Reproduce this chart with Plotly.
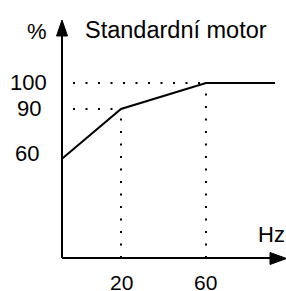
import plotly.graph_objects as go

# Schematic data (axis is not to scale in the original drawing)
freq_labels = ["20", "60"]          # x tick labels (Hz)
freq_pos = [20, 48.8]               # schematic positions on x axis
pct_labels = ["60", "90", "100"]    # y tick labels (%)
pct_pos = [60, 90, 105.7]           # schematic positions on y axis

curve_x = [0, 20, 48.8, 72.2]
curve_y = [60, 90, 105.7, 105.7]

W, H = 286, 291
X0PX, Y0PX = 62, 258
SX, SY = 2.95, 1.656

def x_of(px):
    return (px - X0PX) / SX

def y_of(py):
    return (Y0PX - py) / SY

FONT = "Liberation Sans, Arial, sans-serif"

fig = go.Figure()

# guide dotted lines
dot = dict(color="black", width=2, dash="2px,10.5px")
fig.add_trace(go.Scatter(x=[x_of(73), freq_pos[1]], y=[pct_pos[2]] * 2, mode="lines",
                         line=dot, hoverinfo="skip"))
fig.add_trace(go.Scatter(x=[x_of(73), freq_pos[0]], y=[pct_pos[1]] * 2, mode="lines",
                         line=dot, hoverinfo="skip"))
fig.add_trace(go.Scatter(x=[freq_pos[0]] * 2, y=[0, pct_pos[1]], mode="lines",
                         line=dot, hoverinfo="skip"))
fig.add_trace(go.Scatter(x=[freq_pos[1]] * 2, y=[0, pct_pos[2]], mode="lines",
                         line=dot, hoverinfo="skip"))

# main curve
fig.add_trace(go.Scatter(x=curve_x, y=curve_y, mode="lines",
                         line=dict(color="black", width=2), hoverinfo="skip"))

shapes = []
# axes
shapes.append(dict(type="line", x0=0, y0=0, x1=x_of(272), y1=0,
                   line=dict(color="black", width=2)))
shapes.append(dict(type="line", x0=0, y0=0, x1=0, y1=y_of(34),
                   line=dict(color="black", width=2)))
# arrowheads
shapes.append(dict(type="path",
                   path=f"M {x_of(270)},{y_of(252.5)} L {x_of(286.5)},{y_of(258.5)} L {x_of(270)},{y_of(264.5)} Z",
                   fillcolor="black", line=dict(color="black", width=1)))
shapes.append(dict(type="path",
                   path=f"M {x_of(56.5)},{y_of(36)} L {x_of(62)},{y_of(20)} L {x_of(67.5)},{y_of(36)} Z",
                   fillcolor="black", line=dict(color="black", width=1)))

ann = []
for lab, p in zip(freq_labels, freq_pos):
    ann.append(dict(x=p, y=y_of(282), text=lab, showarrow=False, xanchor="center",
                    yanchor="middle", font=dict(size=21, color="black", family=FONT)))
left_x = {"60": 27, "90": 29, "100": 28.5}
for lab, p in zip(pct_labels, pct_pos):
    ann.append(dict(x=x_of(left_x[lab]), y=p, yshift=5 if lab == "60" else 0,
                    text=lab, showarrow=False, xanchor="center", yanchor="middle",
                    font=dict(size=22, color="black", family=FONT)))
ann.append(dict(x=x_of(36.5), y=y_of(31), text="%", showarrow=False, xanchor="center",
                yanchor="middle", font=dict(size=22, color="black", family=FONT)))
ann.append(dict(x=x_of(83), y=y_of(30), text="Standardní motor", showarrow=False,
                xanchor="left", yanchor="middle", font=dict(size=23.5, color="black", family=FONT)))
ann.append(dict(x=x_of(271.5), y=y_of(234), text="Hz", showarrow=False, xanchor="center",
                yanchor="middle", font=dict(size=22, color="black", family=FONT)))

fig.update_layout(
    width=W, height=H, margin=dict(l=0, r=0, t=0, b=0),
    paper_bgcolor="white", plot_bgcolor="white", showlegend=False,
    xaxis=dict(range=[x_of(0), x_of(W)], visible=False, fixedrange=True),
    yaxis=dict(range=[y_of(H), y_of(0)], visible=False, fixedrange=True),
    shapes=shapes, annotations=ann, hovermode=False,
)

# remove the default page margin so the figure fills the window exactly
fig.write_html("out.html", config={"displayModeBar": False, "staticPlot": True},
               post_script="document.body.style.margin='0';document.body.style.overflow='hidden';")
